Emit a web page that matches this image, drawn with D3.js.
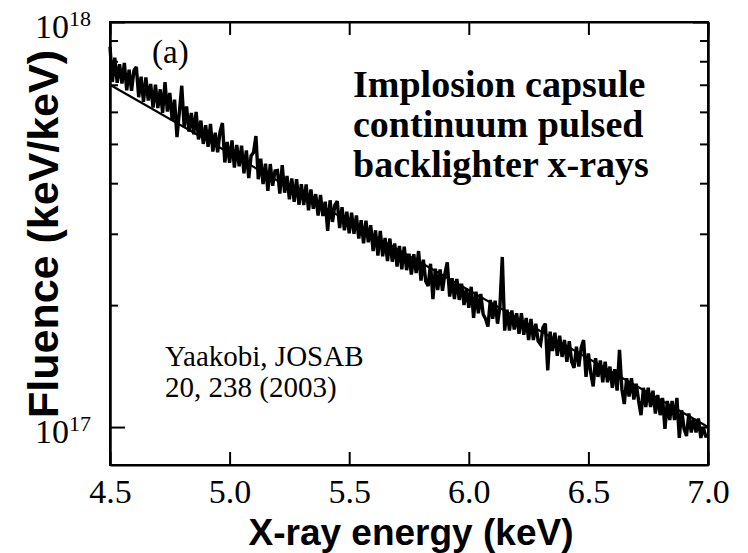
<!DOCTYPE html>
<html>
<head>
<meta charset="utf-8">
<script src="https://cdnjs.cloudflare.com/ajax/libs/d3/7.8.5/d3.min.js"></script>
<style>
body{margin:0;background:#fff;}
.tick text{font-family:"Liberation Serif",serif;fill:#000;}
</style>
</head>
<body>
<div id="plot"></div>
<script>
// spectrum: channels start at 4.5 keV, 0.01 keV apart, fluence in 1e17 keV/keV
var eStart = 4.5, eStep = 0.01;
var fluence = [
 8.69,7.11,8.17,7.08,7.87,7.05,7.92,6.78,7.63,6.76,
 7.59,7.75,6.52,7.33,6.35,7.30,6.40,7.03,6.15,7.00,
 6.13,6.82,5.97,7.10,6.01,6.68,5.72,6.43,5.20,5.99,
 6.96,5.50,6.19,5.36,5.96,5.28,6.00,5.13,5.71,5.00,
 5.56,4.92,5.60,4.79,5.33,4.77,5.36,5.63,4.50,5.06,
 4.49,5.10,4.37,4.97,4.40,4.95,4.23,4.82,4.12,4.68,
 4.76,5.23,4.09,4.60,3.98,4.47,3.83,4.46,3.94,4.29,
 4.30,3.77,4.43,3.79,4.17,3.65,4.11,3.60,4.09,3.54,
 3.98,3.53,3.97,3.43,3.86,3.46,3.76,3.33,3.74,3.32,
 3.60,3.05,3.63,3.21,3.53,3.61,3.10,3.49,3.06,3.40,
 3.01,3.38,3.00,3.33,2.92,3.24,2.84,3.23,2.86,3.15,
 2.72,3.06,2.65,3.05,2.64,2.93,2.57,2.92,2.56,2.84,
 2.49,2.80,2.45,2.79,2.44,2.68,2.38,2.67,2.40,2.72,
 2.30,2.59,2.29,2.23,2.53,2.07,2.46,2.18,2.45,2.17,
 2.39,2.55,2.10,2.33,2.07,2.32,2.06,2.26,2.00,2.20,
 1.97,2.22,1.86,2.16,1.91,2.13,1.90,1.85,1.77,2.06,
 1.85,2.05,1.80,1.98,2.63,1.73,1.95,1.73,1.94,1.74,
 1.91,1.70,1.91,1.69,1.86,1.64,1.85,1.64,1.80,1.63,
 1.60,1.76,1.80,1.38,1.72,1.54,1.71,1.50,1.68,1.49,
 1.64,1.45,1.63,1.45,1.40,1.58,1.41,1.57,1.64,1.33,
 1.52,1.36,1.26,1.48,1.33,1.46,1.29,1.45,1.29,1.41,
 1.25,1.39,1.23,1.55,1.24,1.14,1.32,1.19,1.32,1.17,
 1.28,1.16,1.07,1.25,1.12,1.25,1.12,1.23,1.08,1.20,
 1.07,1.18,0.99,1.16,1.04,1.16,1.04,1.18,0.94,1.10,
 0.99,0.95,1.08,0.97,1.05,0.97,1.05,0.94,1.00,0.95,
 0.95
];
// straight fit through the spectrum (exponential)
var fitEnergy = [4.5, 7.0];
var fitFluence = [7.0, 1.0];

var xTicks = [4.5, 5.0, 5.5, 6.0, 6.5, 7.0];
var yMajor = [1e17, 1e18];
var yMinor = [2e17, 3e17, 4e17, 5e17, 6e17, 7e17, 8e17, 9e17];
var yExp = {"1e+17": "17", "1e+18": "18"};

var margin = {t:22, r:40, b:88, l:110};
var width = 748 - margin.l - margin.r,
	height = 553 - margin.t - margin.b;

var svg = d3.select('#plot')
	.append('svg')
	.attr('width', 748)
	.attr('height', 553);

var plot = svg.append('g')
	.attr('transform', 'translate(' + margin.l + ',' + margin.t + ')');

var x = d3.scaleLinear().domain([4.5, 7.0]).range([0, width]);
var y = d3.scaleLog().domain([8.06e16, 1e18]).range([height, 0]);

var spectrum = fluence.map(function(v, i){
	return {e: eStart + i * eStep, f: v * 1e17};
});
var fit = fitEnergy.map(function(e, i){ return {e: e, f: fitFluence[i] * 1e17}; });

var line = d3.line()
	.x(function(d){ return x(d.e); })
	.y(function(d){ return y(d.f); });

plot.append('path')
	.datum(fit)
	.attr('d', line)
	.attr('fill', 'none')
	.attr('stroke', '#000')
	.attr('stroke-width', 2.2);

plot.append('path')
	.datum(spectrum)
	.attr('d', line)
	.attr('fill', 'none')
	.attr('stroke', '#000')
	.attr('stroke-width', 3.4)
	.attr('stroke-linejoin', 'miter')
	.attr('stroke-miterlimit', 3);

// axes, ticks pointing inward
var xBottom = plot.append('g')
	.attr('transform', 'translate(0,' + height + ')')
	.call(d3.axisBottom(x).tickValues(xTicks).tickFormat(d3.format('.1f'))
		.tickSizeInner(-13).tickSizeOuter(0).tickPadding(14));
xBottom.selectAll('text').attr('font-size', 34);

plot.append('g')
	.call(d3.axisTop(x).tickValues(xTicks).tickFormat('')
		.tickSizeInner(-13).tickSizeOuter(0));

plot.append('g')
	.call(d3.axisLeft(y).tickValues(yMinor).tickFormat('')
		.tickSizeInner(-8).tickSizeOuter(0));
var yLeft = plot.append('g')
	.call(d3.axisLeft(y).tickValues(yMajor).tickFormat(function(d){ return d.toExponential(0); })
		.tickSizeInner(-15).tickSizeOuter(0).tickPadding(19));

yLeft.selectAll('text').each(function(d){
	var t = d3.select(this);
	var ex = yExp[d.toExponential(0)];
	t.text(null).attr('dy', null).attr('y', 15).attr('font-size', 34);
	t.append('tspan').text('10');
	t.append('tspan').attr('font-size', 22).attr('dy', -12).text(ex);
});

plot.append('g')
	.attr('transform', 'translate(' + width + ',0)')
	.call(d3.axisRight(y).tickValues(yMinor).tickFormat('')
		.tickSizeInner(-8).tickSizeOuter(0));
plot.append('g')
	.attr('transform', 'translate(' + width + ',0)')
	.call(d3.axisRight(y).tickValues(yMajor).tickFormat('')
		.tickSizeInner(-15).tickSizeOuter(0));

plot.selectAll('.domain').attr('stroke-width', 2);
plot.selectAll('.tick line').attr('stroke-width', 2);

// frame
plot.append('rect')
	.attr('width', width).attr('height', height)
	.attr('fill', 'none').attr('stroke', '#000').attr('stroke-width', 2);

// axis titles
svg.append('text')
	.attr('x', 411).attr('y', 545)
	.attr('text-anchor', 'middle')
	.style('font-family', '"Liberation Sans",Arial,sans-serif')
	.style('font-weight', 'bold').style('font-size', '37px')
	.text('X-ray energy (keV)');

svg.append('text')
	.attr('transform', 'translate(58,234) rotate(-90)')
	.attr('text-anchor', 'middle')
	.style('font-family', '"Liberation Sans",Arial,sans-serif')
	.style('font-weight', 'bold').style('font-size', '43px')
	.text('Fluence (keV/keV)');

// annotations
var serif = '"Liberation Serif","Times New Roman",serif';
svg.append('text').attr('x', 152).attr('y', 63)
	.style('font-family', serif).style('font-size', '33px').text('(a)');

var note = ['Implosion capsule', 'continuum pulsed', 'backlighter x-rays'];
svg.append('g').selectAll('text').data(note).join('text')
	.attr('x', 353).attr('y', function(d, i){ return 97 + i * 40; })
	.style('font-family', serif).style('font-weight', 'bold').style('font-size', '38px')
	.text(function(d){ return d; });

var cite = ['Yaakobi, JOSAB', '20, 238 (2003)'];
svg.append('g').selectAll('text').data(cite).join('text')
	.attr('x', 165).attr('y', function(d, i){ return 366 + i * 31; })
	.style('font-family', serif).style('font-size', '29px')
	.text(function(d){ return d; });
</script>
</body>
</html>
